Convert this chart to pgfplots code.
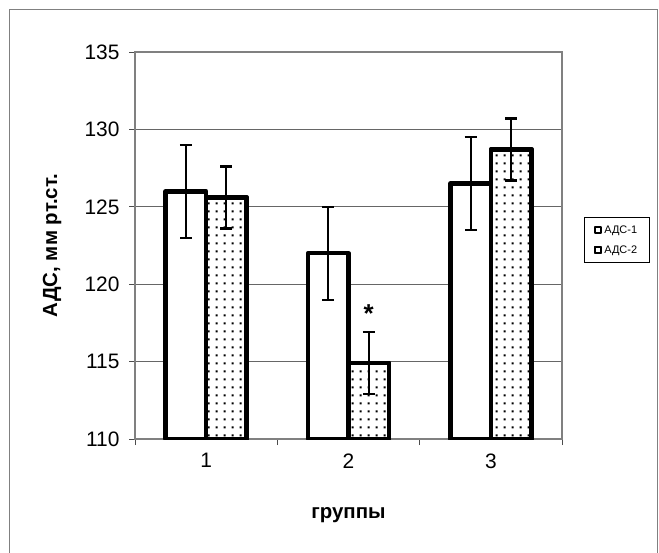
\documentclass[border=0pt]{standalone}
\usepackage{fontspec}
\setmainfont{Liberation Sans}
\usepackage{pgfplots}
\pgfplotsset{compat=1.18}
\usetikzlibrary{patterns}

% sparse square dots, as in the original fill
\pgfdeclarepatternformonly{sparsedots}{\pgfpointorigin}{\pgfqpoint{7.6bp}{7.6bp}}{\pgfqpoint{7.6bp}{7.6bp}}{%
  \pgfpathrectangle{\pgfqpoint{2.8bp}{2.8bp}}{\pgfqpoint{2bp}{2bp}}\pgfusepath{fill}}

\begin{document}
\begin{tikzpicture}
\path[use as bounding box] (0,0) rectangle (659bp,-553bp);
\draw[black!50, line width=1bp] (9bp,-553bp) -- (9bp,-9bp) -- (657.5bp,-9bp) -- (657.5bp,-553bp);

\begin{axis}[
    at={(135bp,-439bp)}, anchor=south west,
    scale only axis, width=427bp, height=387bp,
    xmin=0.5, xmax=3.5, ymin=110, ymax=135,
    ytick={110,115,...,135},
    xtick={0.5,1.5,2.5,3.5}, xticklabels={},
    extra x ticks={1,2,3}, extra x tick labels={1,2,3},
    extra x tick style={major tick length=0pt},
    xtick pos=bottom, ytick pos=left,
    tick align=outside, major tick length=6bp,
    axis line style={black!50, line width=1.5bp},
    tick style={black!70, line width=1bp},
    ymajorgrids, grid style={black!60, line width=1bp},
    tick label style={font=\fontsize{21}{25}\selectfont},
    xticklabel style={yshift=-11bp},
    yticklabel style={xshift=-6bp},
    /pgf/number format/assume math mode=true,
    xlabel={группы}, ylabel={АДС, мм рт.ст.},
    label style={font=\bfseries\fontsize{20.5}{24}\selectfont},
    xlabel style={at={(axis description cs:0.5,-0.196)}, anchor=center},
    ylabel style={at={(axis description cs:-0.194,0.5)}, anchor=center},
    legend style={at={(1.0515,0.5736)}, anchor=north west,
        draw=black, line width=0.8bp,
        font=\fontsize{11}{13}\selectfont,
        inner xsep=10bp, inner ysep=6bp, row sep=7bp},
    legend cell align=left,
    legend image code/.code={\draw[black, line width=2bp, fill=white] (0bp,-3bp) rectangle (6bp,3bp);},
]

% bars placed at their own x positions (group centre -/+ 0.1425)
\addplot[ybar, bar width=0.285, bar shift=0pt,
    draw=black, line width=4.5bp, line join=round, fill=white,
    error bars/.cd, y dir=both, y explicit,
    error bar style={line width=2bp, black},
    error mark options={rotate=90, mark size=6bp, line width=2.2bp, black}]
coordinates {(0.8575,126) +- (0,3) (1.8575,122) +- (0,3) (2.8575,126.5) +- (0,3)};

\addplot[ybar, bar width=0.285, bar shift=0pt,
    draw=black, line width=4.5bp, line join=round, fill=white,
    postaction={pattern=sparsedots},
    error bars/.cd, y dir=both, y explicit,
    error bar style={line width=2bp, black},
    error mark options={rotate=90, mark size=6bp, line width=2.2bp, black}]
coordinates {(1.1425,125.6) +- (0,2) (2.1425,114.9) +- (0,2) (3.1425,128.7) +- (0,2)};

\legend{АДС-1, АДС-2}

% significance mark
\addplot[forget plot, draw=none, nodes near coords, point meta=explicit symbolic,
    nodes near coords style={font=\bfseries\fontsize{26}{28}\selectfont, anchor=center}]
coordinates {(2.1425,118.1) [*]};
\end{axis}
\end{tikzpicture}
\end{document}
